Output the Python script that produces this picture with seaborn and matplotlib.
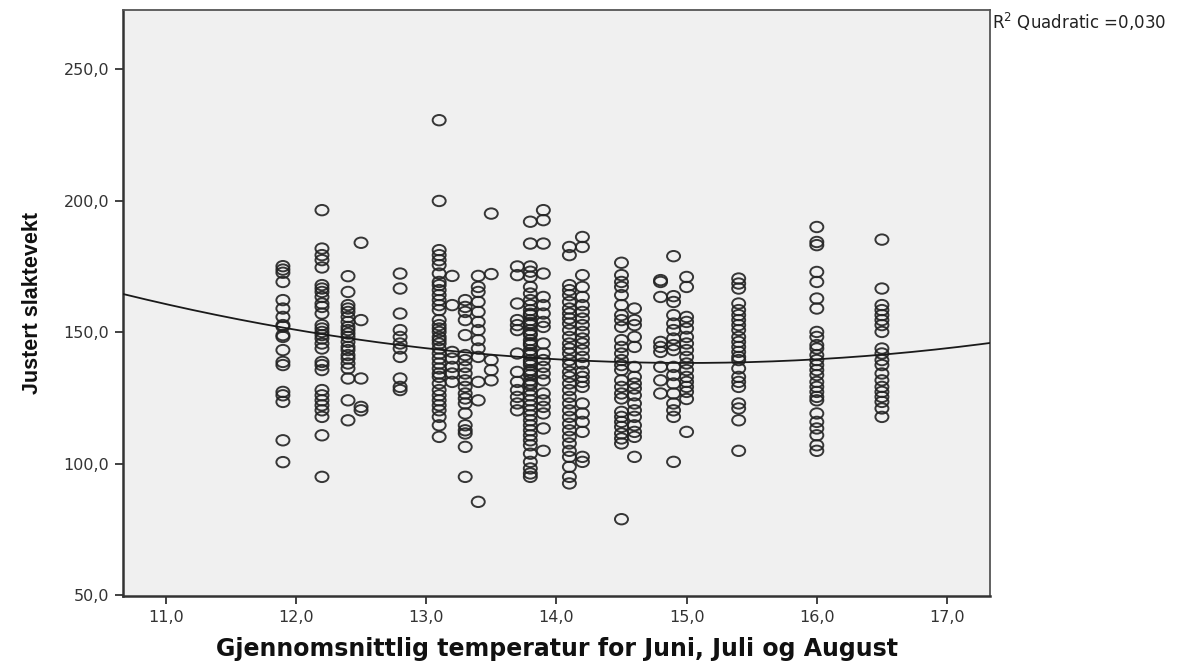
import numpy as np
import pandas as pd
import matplotlib
matplotlib.use("Agg")
import matplotlib.pyplot as plt
from matplotlib.path import Path
from matplotlib.ticker import FuncFormatter
import seaborn as sns

# ---------------- data ----------------
temps = [11.9, 12.2, 12.4, 12.5, 12.8, 13.1, 13.2, 13.3, 13.4, 13.5, 13.7,
         13.8, 13.9, 14.1, 14.2, 14.5, 14.6, 14.8, 14.9, 15.0, 15.4, 16.0, 16.5]

w_11_9 = [175.1, 173.8, 172.6, 169.1, 162.2, 159.0, 155.8, 152.7, 152.1, 148.9,
          148.2, 143.2, 138.7, 137.5, 127.3, 126.0, 123.5, 108.9, 100.6]
w_12_2 = [196.4, 181.8, 179.3, 177.4, 174.6, 167.9, 166.6, 165.3, 163.4, 160.9,
          159.6, 157.1, 152.7, 151.4, 150.1, 148.9, 147.6, 145.7, 143.8, 138.7,
          137.5, 135.6, 128.0, 126.0, 124.1, 122.2, 120.3, 117.8, 110.8, 95.0]
w_12_4 = [171.3, 165.3, 160.3, 159.0, 157.7, 155.8, 153.9, 152.0, 150.8, 149.5,
          148.2, 146.3, 144.4, 143.2, 141.3, 140.0, 138.1, 136.2, 132.4, 124.1,
          116.5]
w_12_5 = [184.0, 154.6, 132.4, 121.6, 120.3]
w_12_8 = [172.3, 166.6, 157.1, 150.8, 148.2, 145.7, 143.8, 140.6, 132.4, 129.2,
          128.0]
w_13_1 = [230.6, 199.9, 181.2, 179.3, 177.4, 175.5, 172.3, 169.1, 167.9, 166.0,
          164.1, 162.2, 160.3, 158.4, 154.6, 152.7, 151.4, 150.1, 148.2, 147.0,
          145.7, 143.8, 141.9, 140.0, 138.1, 136.2, 134.3, 133.0, 130.5, 128.0,
          126.0, 124.1, 122.2, 120.3, 117.8, 114.6, 110.2]
w_13_2 = [171.4, 160.3, 142.5, 140.0, 136.8, 134.3, 131.1]
w_13_3 = [162.2, 159.6, 157.7, 154.6, 148.9, 141.3, 139.4, 136.8, 134.3, 131.7,
          129.2, 126.7, 124.8, 122.9, 119.1, 114.6, 112.7, 111.5, 106.4, 95.0]
w_13_4 = [171.4, 167.2, 165.3, 161.5, 157.7, 153.9, 150.8, 147.0, 143.8, 140.6,
          131.1, 124.1, 85.5]
w_13_5 = [195.1, 172.1, 139.4, 135.6, 131.7]
w_13_7 = [175.0, 171.7, 160.9, 154.6, 152.7, 150.8, 141.9, 134.9, 131.1, 128.0,
          125.4, 122.9, 120.3]
w_13_8 = [192.0, 183.7, 175.0, 173.0, 171.1, 167.2, 164.7, 162.2, 160.3, 158.4,
          156.5, 154.6, 152.7, 150.8, 148.9, 147.0, 145.1, 143.2, 141.3, 139.4,
          137.5, 135.6, 133.7, 131.7, 129.8, 127.9, 126.0, 124.1, 122.2, 120.3,
          118.4, 116.5, 114.6, 112.7, 110.8, 108.9, 107.0, 103.8, 100.7, 98.2,
          96.3, 95.0, 157.0, 153.5, 149.5, 145.8, 142.0, 138.5, 134.8, 130.5]
w_13_9 = [196.4, 192.6, 183.7, 172.3, 163.4, 160.3, 157.1, 153.9, 152.0, 145.7,
          141.9, 139.4, 136.8, 134.3, 131.7, 126.7, 124.1, 121.6, 119.1, 113.4,
          104.9]
w_14_1 = [182.4, 179.3, 167.9, 166.0, 164.1, 161.5, 159.0, 157.1, 155.2, 153.3,
          150.8, 148.2, 145.7, 143.8, 141.9, 139.4, 137.5, 134.9, 133.0, 130.5,
          128.0, 125.4, 122.9, 120.3, 117.8, 115.2, 112.7, 110.2, 107.7, 104.9,
          102.6, 98.8, 95.0, 92.5]
w_14_2 = [186.2, 182.4, 171.7, 167.2, 163.4, 160.3, 157.7, 155.2, 152.7, 150.1,
          147.6, 145.7, 143.2, 140.6, 138.1, 134.9, 133.0, 131.1, 129.2, 122.9,
          119.1, 115.9, 112.1, 102.6, 100.7]
w_14_5 = [176.4, 171.7, 169.1, 167.2, 164.1, 160.3, 156.5, 154.6, 152.0, 147.0,
          144.4, 141.9, 139.4, 137.5, 135.6, 131.7, 129.2, 126.7, 124.8, 119.7,
          117.8, 115.9, 114.0, 111.5, 109.6, 107.7, 78.9]
w_14_6 = [159.0, 154.6, 152.7, 148.2, 144.4, 136.8, 133.0, 130.5, 128.6, 126.0,
          122.9, 120.3, 117.8, 114.6, 112.1, 110.2, 102.6]
w_14_8 = [169.8, 169.1, 163.4, 146.3, 144.4, 142.5, 136.8, 131.7, 126.7]
w_14_9 = [178.9, 163.7, 161.5, 156.5, 153.3, 150.8, 147.6, 145.1, 143.2, 136.8,
          133.7, 130.5, 126.7, 122.9, 120.3, 117.8, 100.7]
w_15_0 = [171.0, 167.2, 155.8, 153.9, 151.4, 148.2, 145.7, 143.2, 140.6, 138.1,
          135.6, 133.0, 131.1, 129.2, 127.3, 124.6, 112.1]
w_15_4 = [170.4, 168.5, 166.6, 160.9, 158.4, 156.5, 154.6, 152.7, 150.8, 148.2,
          146.3, 144.4, 142.5, 140.6, 139.4, 136.2, 133.0, 131.1, 129.2, 122.9,
          121.0, 116.5, 104.9]
w_16_0 = [190.0, 184.3, 183.1, 172.9, 169.1, 162.8, 159.0, 150.1, 148.2, 145.1,
          143.8, 141.3, 139.4, 137.5, 135.6, 133.7, 131.1, 129.2, 127.3, 125.4,
          124.1, 119.1, 115.9, 113.4, 110.8, 107.0, 104.9]
w_16_5 = [185.2, 166.6, 160.3, 158.4, 156.5, 154.6, 152.7, 150.1, 143.8, 141.9,
          139.4, 137.5, 134.3, 131.7, 129.2, 127.3, 125.4, 123.5, 121.0, 117.8]

weights = [w_11_9, w_12_2, w_12_4, w_12_5, w_12_8, w_13_1, w_13_2, w_13_3,
           w_13_4, w_13_5, w_13_7, w_13_8, w_13_9, w_14_1, w_14_2, w_14_5,
           w_14_6, w_14_8, w_14_9, w_15_0, w_15_4, w_16_0, w_16_5]

# quadratic fit coefficients (a, b, c)
fit_coeffs = [1.40, -42.0, 453.3]

x_ticks = [11.0, 12.0, 13.0, 14.0, 15.0, 16.0, 17.0]
y_ticks = [50.0, 100.0, 150.0, 200.0, 250.0]

x_label = "Gjennomsnittlig temperatur for Juni, Juli og August"
y_label = "Justert slaktevekt"
r2_text = "R$^2$ Quadratic =0,030"

# ---------------- build table ----------------
rows = []
for t, ws in zip(temps, weights):
    for w in ws:
        rows.append((t, w))
df = pd.DataFrame(rows, columns=["temp", "vekt"])

# ---------------- drawing ----------------
plt.rcParams["font.family"] = ["DejaVu Sans"]
plt.rcParams["mathtext.default"] = "regular"

fig = plt.figure(figsize=(11.92, 6.63), dpi=100)
ax = fig.add_axes([123 / 1192, 1 - 596 / 663, (990 - 123) / 1192, (596 - 10) / 663])
ax.set_facecolor("#f0f0f0")

xlim = (10.672, 17.33)
ylim = (49.7, 272.5)

# slightly flattened circle marker like the reference
uc = Path.unit_circle()
ell = Path(uc.vertices * np.array([1.0, 0.8]), uc.codes)

sns.scatterplot(data=df, x="temp", y="vekt", ax=ax, marker=ell, s=88,
                facecolor="none", edgecolor="#222222", linewidth=1.4,
                alpha=0.9, legend=False, zorder=2)

xs = np.linspace(xlim[0], xlim[1], 300)
curve = pd.DataFrame({"temp": xs, "fit": np.polyval(fit_coeffs, xs)})
sns.lineplot(data=curve, x="temp", y="fit", ax=ax, color="#1a1a1a",
             linewidth=1.3, zorder=3)

ax.set_xlim(*xlim)
ax.set_ylim(*ylim)
ax.set_xticks(x_ticks)
ax.set_yticks(y_ticks)
fmt = FuncFormatter(lambda v, p: f"{v:.1f}".replace(".", ","))
ax.xaxis.set_major_formatter(fmt)
ax.yaxis.set_major_formatter(fmt)
ax.tick_params(axis="both", direction="out", length=6, width=1.3,
               color="#333333", labelsize=11.5, labelcolor="#333333", pad=4)

for side, sp in ax.spines.items():
    sp.set_color("#555555")
    sp.set_linewidth(1.3)
ax.spines["left"].set_color("#333333")
ax.spines["left"].set_linewidth(1.8)
ax.spines["bottom"].set_color("#333333")
ax.spines["bottom"].set_linewidth(1.8)

ax.set_xlabel(x_label, fontsize=17, fontweight="bold", family="DejaVu Sans",
              color="#111111", labelpad=9)
ax.set_ylabel(y_label, fontsize=15.5, fontweight="bold",
              family=["Liberation Sans Narrow", "Liberation Sans"],
              color="#111111", labelpad=15)

fig.text(992 / 1192, 1 - 22 / 663, r2_text, fontsize=12, color="#222222",
         ha="left", va="center")

fig.savefig("out.png", dpi=100, facecolor="white")
